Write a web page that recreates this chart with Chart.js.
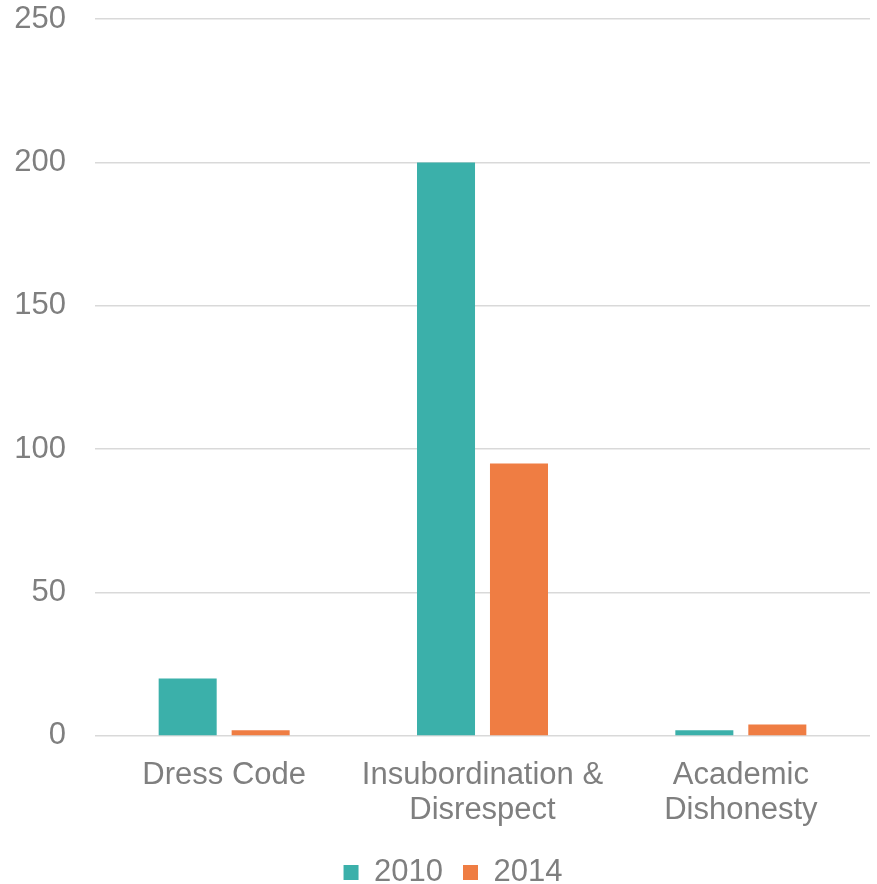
<!DOCTYPE html>
<html>
<head>
<meta charset="utf-8">
<script src="https://cdn.jsdelivr.net/npm/chart.js@4/dist/chart.umd.min.js"></script>
<style>
  html, body { margin: 0; padding: 0; background: #fff; }
  #wrap { width: 877px; height: 884px; }
</style>
</head>
<body>
<div id="wrap"><canvas id="chart" width="877" height="884"></canvas></div>
<script>
const categories = ['Dress Code', ['Insubordination &', 'Disrespect'], ['Academic', 'Dishonesty']];
const seriesNames = ['2010', '2014'];
const values2010 = [20, 200, 2];
const values2014 = [2, 95, 4];
const yTicks = [0, 50, 100, 150, 200, 250];

// nudge the legend a little to sit where the original one does
const legendNudge = {
    id: 'legendNudge',
    afterLayout(chart) {
        const lg = chart.legend;
        lg.left += 18;
        lg.right += 18;
        lg.top -= 5;
        lg.bottom += 10;
    }
};

const ctx = document.getElementById('chart').getContext('2d');
const chart = new Chart(ctx, {
    type: 'bar',
    data: {
        labels: categories,
        datasets: [
            {
                label: seriesNames[0],
                data: values2010,
                backgroundColor: '#3bb0aa',
                barPercentage: 0.795,
                categoryPercentage: 0.565
            },
            {
                label: seriesNames[1],
                data: values2014,
                backgroundColor: '#ef7d43',
                barPercentage: 0.795,
                categoryPercentage: 0.565
            }
        ]
    },
    plugins: [legendNudge],
    options: {
        responsive: false,
        animation: false,
        layout: {
            padding: { top: 19, right: 7, left: 0, bottom: 0 }
        },
        scales: {
            x: {
                grid: { display: false },
                border: { display: false },
                ticks: {
                    color: '#7f7f7f',
                    font: { family: 'Liberation Sans, Arial, sans-serif', size: 31, lineHeight: 1.13 },
                    padding: 14,
                    maxRotation: 0,
                    autoSkip: false
                }
            },
            y: {
                min: 0,
                max: 250,
                afterBuildTicks: axis => { axis.ticks = yTicks.map(v => ({ value: v })); },
                afterFit: axis => {
                    axis.width = 95;
                    axis.paddingTop = 0;
                    axis.paddingBottom = 0;
                },
                grid: { color: '#d9d9d9', lineWidth: 1.5, drawTicks: false },
                border: { display: false },
                ticks: {
                    color: '#7f7f7f',
                    font: { family: 'Liberation Sans, Arial, sans-serif', size: 31 },
                    padding: 29
                }
            }
        },
        plugins: {
            legend: {
                position: 'bottom',
                maxHeight: 42,
                labels: {
                    color: '#7f7f7f',
                    font: { family: 'Liberation Sans, Arial, sans-serif', size: 31 },
                    boxWidth: 15,
                    boxHeight: 15,
                    padding: 20
                }
            },
            tooltip: { enabled: false }
        }
    }
});
</script>
</body>
</html>
